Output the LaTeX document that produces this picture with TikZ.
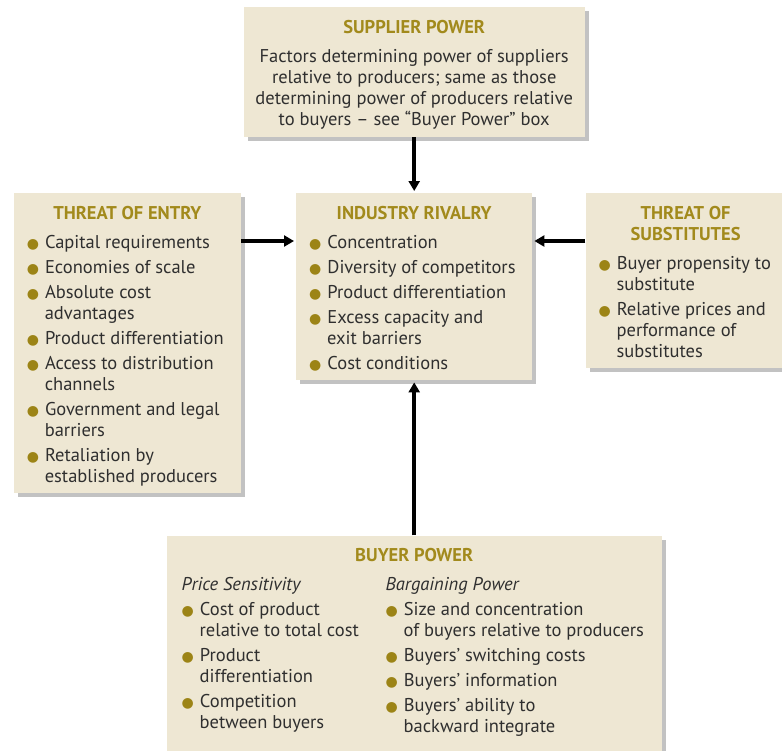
\documentclass[tikz,border=0pt]{standalone}
\usepackage{fontspec}
\setmainfont{PT Sans}
\newfontfamily\dotfont{DejaVu Sans}
\usetikzlibrary{positioning,shadows,arrows.meta}

\definecolor{panelbg}{HTML}{EEE7D3}
\definecolor{headgold}{HTML}{A28A1C}
\definecolor{dotgold}{HTML}{9C8416}
\definecolor{inkgray}{HTML}{2F2F2F}

\newcommand{\dotmark}{\textcolor{dotgold}{\dotfont\fontsize{14}{14}\selectfont ●}}
\newenvironment{dotlist}[1][8pt]{%
  \begin{list}{\dotmark}{%
    \setlength{\leftmargin}{18pt}\setlength{\labelwidth}{12pt}%
    \setlength{\labelsep}{6pt}\setlength{\itemsep}{4pt}%
    \setlength{\parsep}{0pt}\setlength{\topsep}{#1}%
    \setlength{\partopsep}{0pt}}}%
  {\end{list}}
\newcommand{\panelhead}[1]{{\centering\bfseries\color{headgold}#1\par}}
\newcommand{\panelbody}[3]{\parbox[c][#2][t]{#1}{\raggedright\vspace*{13pt}#3}}

\begin{document}
\begin{tikzpicture}[x=1pt,y=-1pt,
  panel/.style={fill=panelbg, text=inkgray, inner xsep=13pt, inner ysep=0pt,
    font=\fontsize{18.5}{21}\selectfont,
    drop shadow={shadow xshift=4pt,shadow yshift=-4pt,fill=black!60,opacity=.4}},
  push/.style={line width=3.5pt,-{Triangle[length=10pt,width=11pt]},shorten >=2pt}]
  \useasboundingbox (0,0) rectangle (782,750);

  % middle box first, the rest hang off it
  \node[panel, anchor=north west] (rivalry) at (296,193) {\panelbody{210pt}{187pt}{%
    \panelhead{INDUSTRY RIVALRY}
    \begin{dotlist}
      \item Concentration
      \item Diversity of competitors
      \item Product differentiation
      \item Excess capacity and\\ exit barriers
      \item Cost conditions
    \end{dotlist}}};
  \node[panel, left=55pt of rivalry.north west, anchor=north east] (entry) {\panelbody{201pt}{300pt}{%
    \panelhead{THREAT OF ENTRY}
    \begin{dotlist}
      \item Capital requirements
      \item Economies of scale
      \item Absolute cost\\ advantages
      \item Product differentiation
      \item Access to distribution\\ channels
      \item Government and legal\\ barriers
      \item Retaliation by\\ established producers
    \end{dotlist}}};
  \node[panel, right=53pt of rivalry.north east, anchor=north west] (subst) {\panelbody{174pt}{175pt}{%
    \panelhead{THREAT OF\\ SUBSTITUTES}
    \begin{dotlist}
      \item Buyer propensity to\\ substitute
      \item Relative prices and\\ performance of\\ substitutes
    \end{dotlist}}};
  \node[panel, inner xsep=3pt, above=56pt of rivalry] (supplier) {\panelbody{335pt}{130pt}{%
    \panelhead{SUPPLIER POWER}\vspace{8pt}
    {\centering Factors determining power of suppliers\\ relative to producers; same as those\\
     determining power of producers relative\\ to buyers – see “Buyer Power” box\par}}};
  \node[panel, inner xsep=15pt, below=155pt of rivalry] (buyer) {\panelbody{465pt}{220pt}{%
    \panelhead{BUYER POWER}\vspace{8pt}
    \begin{minipage}[t]{204pt}\raggedright
      \textit{Price Sensitivity}
      \begin{dotlist}[4pt]
        \item Cost of product\\ relative to total cost
        \item Product\\ differentiation
        \item Competition\\ between buyers
      \end{dotlist}
    \end{minipage}%
    \begin{minipage}[t]{275pt}\raggedright
      \textit{Bargaining Power}
      \begin{dotlist}[4pt]
        \item Size and concentration\\ of buyers relative to producers
        \item Buyers’ switching costs
        \item Buyers’ information
        \item Buyers’ ability to\\ backward integrate
      \end{dotlist}
    \end{minipage}}};

  \draw[push] (supplier) -- (rivalry);
  \draw[push] (buyer) -- (rivalry);
  \draw[push] ([yshift=-48pt]entry.north east) -- ([yshift=-48pt]rivalry.north west);
  \draw[push] ([yshift=-48pt]subst.north west) -- ([yshift=-48pt]rivalry.north east);
\end{tikzpicture}
\end{document}
